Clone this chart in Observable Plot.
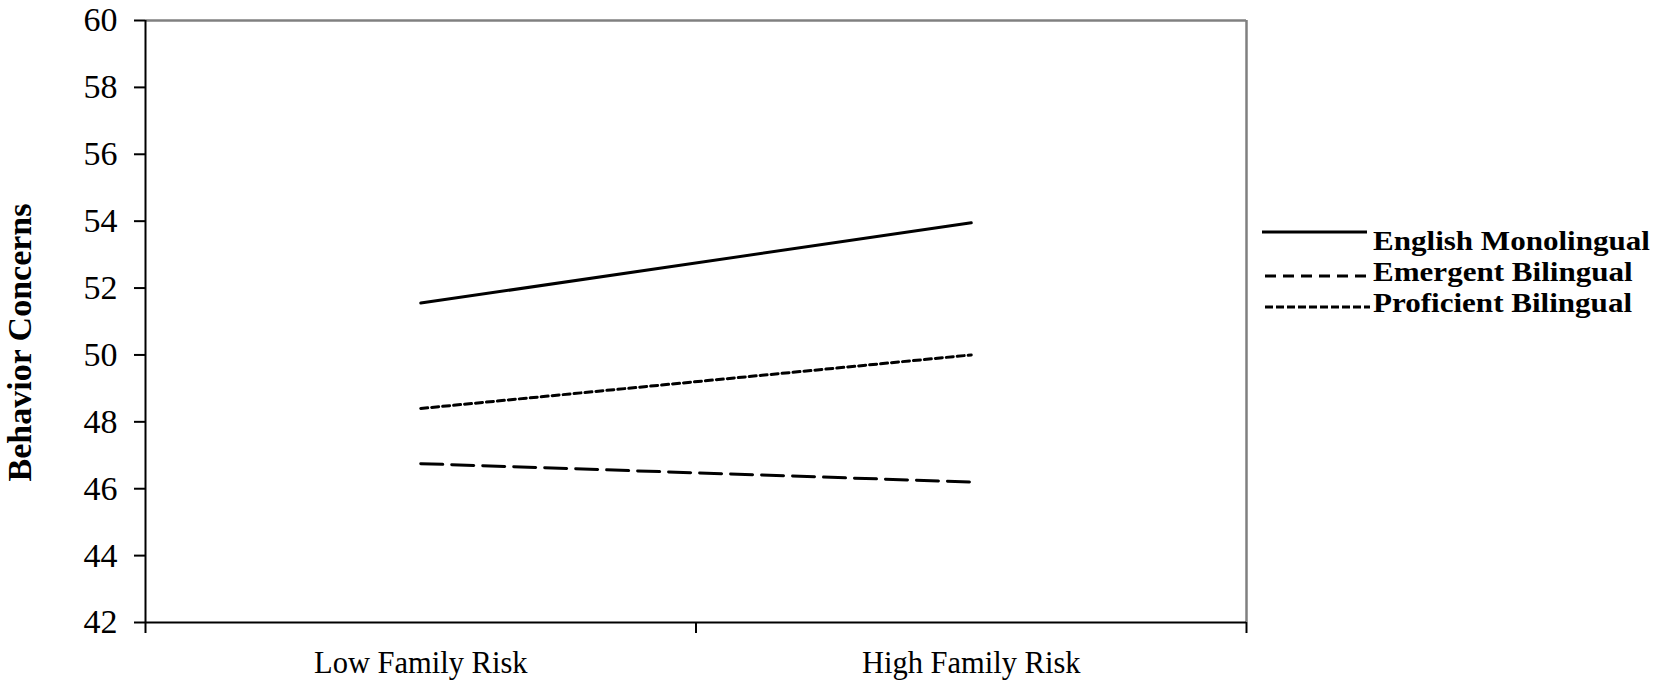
<!DOCTYPE html>
<html><head><meta charset="utf-8">
<script src="https://cdn.jsdelivr.net/npm/d3@7"></script>
<script src="https://cdn.jsdelivr.net/npm/@observablehq/plot@0.6"></script>
<style>
body{margin:0;background:#fff;}
#wrap{position:relative;width:1654px;height:688px;font-family:"Liberation Serif","Times New Roman",serif;}
#legend{position:absolute;left:1262px;top:226px;}
.row{display:flex;align-items:flex-start;height:31px;line-height:31px;font-weight:bold;font-size:27px;color:#000;white-space:nowrap;}
.row svg{flex:none;}
.row span{display:inline-block;transform:scaleX(1.15);transform-origin:left center;}
</style></head><body><div id="wrap"></div>
<script>
const categories = ["Low Family Risk", "High Family Risk"];
const seriesNames = ["English Monolingual", "Emergent Bilingual", "Proficient Bilingual"];
const englishMonolingual = [51.55, 53.95];
const emergentBilingual = [46.75, 46.2];
const proficientBilingual = [48.4, 50.0];
const yTicks = [42, 44, 46, 48, 50, 52, 54, 56, 58, 60];
const yLabel = "Behavior Concerns";

const seriesValues = [englishMonolingual, emergentBilingual, proficientBilingual];
const chartDashes = [null, "22,9", "7,4"];
const legendDashes = [null, "11,7", "8,3"];

const data = seriesNames.map((s, si) =>
  categories.map((c, ci) => ({series: s, pos: ci + 0.5, value: seriesValues[si][ci]})));

const yMin = yTicks[0], yMax = yTicks[yTicks.length - 1];
const nCat = categories.length;

const chart = Plot.plot({
  width: 1654, height: 688,
  marginLeft: 145, marginRight: 408, marginTop: 20, marginBottom: 66,
  style: {fontFamily: '"Liberation Serif", "Times New Roman", serif', fontSize: "31px", color: "#000", background: "#fff"},
  x: {domain: [0, nCat], axis: null},
  y: {domain: [yMin, yMax], axis: null},
  marks: [
    Plot.ruleY([yMax], {stroke: "#808080", strokeWidth: 2.5}),
    Plot.ruleX([nCat], {stroke: "#808080", strokeWidth: 2.5}),
    Plot.axisY({ticks: yTicks, tickSize: 11, tickPadding: 17, strokeWidth: 2, fontSize: 34, label: null, tickFormat: d => String(d)}),
    Plot.axisX({ticks: d3.range(nCat + 1), tickSize: 11, strokeWidth: 2, tickFormat: () => "", label: null}),
    Plot.axisX({ticks: categories.map((c, i) => i + 0.5), tickSize: 0, tickPadding: 29, fontSize: 30.5, label: null,
      tickFormat: v => categories[Math.floor(v)]}),
    Plot.ruleX([0], {stroke: "#000", strokeWidth: 2}),
    Plot.ruleY([yMin], {stroke: "#000", strokeWidth: 2}),
    ...data.map((d, i) => Plot.line(d, {x: "pos", y: "value", stroke: "#000", strokeWidth: 3,
      strokeDasharray: chartDashes[i] ?? undefined})),
    Plot.text([yLabel], {frameAnchor: "left", textAnchor: "middle", rotate: -90, dx: -125, dy: 21, fontWeight: "bold", fontSize: 34})
  ]
});

const wrap = document.getElementById("wrap");
wrap.appendChild(chart);

const legend = document.createElement("div");
legend.id = "legend";
seriesNames.forEach((s, i) => {
  const row = document.createElement("div");
  row.className = "row";
  const ly = i === 0 ? 6 : 19;
  const x1 = i === 0 ? 0 : 3, x2 = i === 0 ? 105 : 108;
  row.innerHTML = `<svg width="111" height="31"><line x1="${x1}" x2="${x2}" y1="${ly}" y2="${ly}" stroke="#000" stroke-width="3" ${legendDashes[i] ? `stroke-dasharray="${legendDashes[i]}"` : ""}/></svg><span>${s}</span>`;
  legend.appendChild(row);
});
wrap.appendChild(legend);
</script></body></html>
